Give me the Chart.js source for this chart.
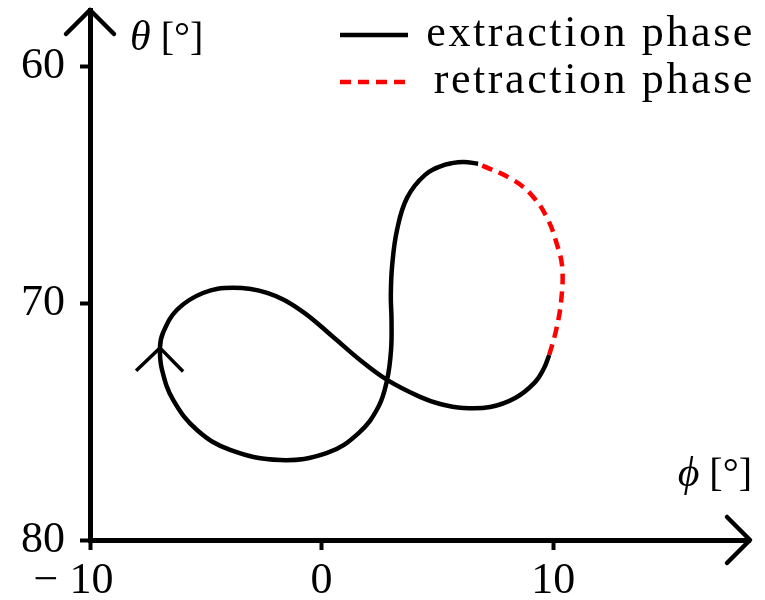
<!DOCTYPE html>
<html>
<head>
<meta charset="utf-8">
<title>Tether phase trajectory</title>
<script src="https://cdn.jsdelivr.net/npm/chart.js@4.4.1/dist/chart.umd.min.js"></script>
<style>
  body { margin: 0; background: #fff; }
  #wrap { width: 765px; height: 600px; }
</style>
</head>
<body>
<div id="wrap"><canvas id="traj" width="765" height="600"></canvas></div>
<script>
// trajectory in (phi, theta), degrees
// extraction phase: from the top of the right lobe, round the figure eight
const extPhi = [6.76, 6.11, 5.34, 4.47, 3.69, 3.26, 3.05, 2.99, 3.02, 3.00, 2.83, 2.45, 1.60, 0.24, -1.79, -3.95, -5.38, -6.41, -6.89, -6.98, -6.85, -6.24, -5.12, -3.82, -2.35, -0.93, 0.50, 1.66, 2.83, 4.25, 5.12, 6.11, 7.28, 8.36, 9.20, 9.61, 9.83];
const extTheta = [64.10, 64.02, 64.14, 64.57, 65.54, 66.89, 68.37, 69.64, 70.70, 71.97, 73.23, 74.38, 75.48, 76.32, 76.62, 76.19, 75.35, 74.08, 72.81, 71.88, 71.25, 70.27, 69.56, 69.34, 69.56, 70.27, 71.42, 72.39, 73.23, 73.95, 74.25, 74.42, 74.38, 74.00, 73.35, 72.73, 72.18];

// retraction phase: up the right side back to the top
const retPhi = [9.83, 10.13, 10.35, 10.39, 10.17, 9.78, 9.14, 8.27, 6.76];
const retTheta = [72.18, 71.12, 69.85, 68.46, 67.53, 66.47, 65.50, 64.78, 64.10];

// direction marker on the left lobe
const dirPhi = [-8.01, -6.98, -5.98];
const dirTheta = [72.85, 71.88, 72.88];

const phiTicks = [-10, 0, 10];
const thetaTicks = [60, 70, 80];
const phiRange = [-10, 18.5];
const thetaRange = [57.6, 80];

const seriesNames = ['extraction phase', 'retraction phase'];

function pts(xs, ys) {
    return xs.map((x, i) => ({ x: x, y: ys[i] }));
}

const serif = 'Liberation Serif, Times New Roman, serif';

// arrows on the axes, axis names and the legend
const decor = {
    id: 'decor',
    afterDraw(chart) {
        const ctx = chart.ctx;
        const a = chart.chartArea;
        ctx.save();
        ctx.strokeStyle = '#000';
        ctx.fillStyle = '#000';
        ctx.lineWidth = 4.5;
        ctx.lineCap = 'round';
        ctx.lineJoin = 'round';

        ctx.beginPath();
        ctx.moveTo(a.left - 24, a.top + 24);
        ctx.lineTo(a.left, a.top);
        ctx.lineTo(a.left + 24, a.top + 24);
        ctx.stroke();

        ctx.beginPath();
        ctx.moveTo(a.right - 23, a.bottom - 23);
        ctx.lineTo(a.right, a.bottom);
        ctx.lineTo(a.right - 23, a.bottom + 23);
        ctx.stroke();

        // theta [°]
        ctx.textBaseline = 'alphabetic';
        ctx.textAlign = 'left';
        ctx.font = 'italic 42px ' + serif;
        ctx.fillText('θ', 130, 50);
        let w = ctx.measureText('θ').width;
        ctx.font = '40px ' + serif;
        ctx.fillText(' [°]', 130 + w, 50);

        // phi [°]
        ctx.font = '40px ' + serif;
        const unitW = ctx.measureText(' [°]').width;
        ctx.textAlign = 'right';
        ctx.fillText(' [°]', 752, 486);
        ctx.font = 'italic 42px ' + serif;
        ctx.fillText('ϕ', 752 - unitW, 486);

        // legend
        ctx.font = '44px ' + serif;
        ctx.letterSpacing = '2.6px';
        ctx.textAlign = 'right';
        chart.data.datasets.filter(d => d.label).forEach((d, i) => {
            const base = 46 + i * 47;
            ctx.save();
            ctx.strokeStyle = d.borderColor;
            ctx.lineWidth = d.borderWidth;
            ctx.lineCap = 'butt';
            ctx.setLineDash(d.borderDash || []);
            ctx.beginPath();
            ctx.moveTo(340, base - 11);
            ctx.lineTo(408, base - 11);
            ctx.stroke();
            ctx.restore();
            ctx.fillText(d.label, 755, base);
        });
        ctx.restore();
    }
};

// keep the plot area fixed: no extra room for the end labels
function fixY(s) {
    s.width = 90;
    s.paddingTop = 0;
    s.paddingBottom = 0;
}
function fixX(s) {
    s.height = 60;
    s.paddingLeft = 0;
    s.paddingRight = 0;
}

new Chart(document.getElementById('traj'), {
    type: 'scatter',
    data: {
        datasets: [
            {
                label: seriesNames[0],
                data: pts(extPhi, extTheta),
                showLine: true,
                borderColor: '#000',
                borderWidth: 4.5,
                tension: 0.4,
                pointRadius: 0
            },
            {
                label: seriesNames[1],
                data: pts(retPhi, retTheta),
                showLine: true,
                borderColor: '#f00',
                borderWidth: 4.5,
                borderDash: [11, 7],
                tension: 0.4,
                pointRadius: 0
            },
            {
                data: pts(dirPhi, dirTheta),
                showLine: true,
                borderColor: '#000',
                borderWidth: 3.5,
                tension: 0,
                pointRadius: 0
            }
        ]
    },
    options: {
        responsive: false,
        animation: false,
        devicePixelRatio: 1,
        layout: { padding: { top: 10, right: 15, left: 0, bottom: 0 } },
        plugins: {
            legend: { display: false },
            tooltip: { enabled: false }
        },
        scales: {
            x: {
                type: 'linear',
                min: phiRange[0],
                max: phiRange[1],
                afterBuildTicks: s => { s.ticks = phiTicks.map(v => ({ value: v })); },
                afterFit: fixX,
                border: { display: true, color: '#000', width: 5 },
                grid: { display: true, drawOnChartArea: false, drawTicks: true, tickLength: 10, tickWidth: 4, tickColor: '#000' },
                ticks: {
                    color: '#000',
                    padding: 5,
                    maxRotation: 0,
                    font: { family: serif, size: 44 },
                    callback: v => v < 0 ? '− ' + Math.abs(v) + '   ' : String(v)
                }
            },
            y: {
                type: 'linear',
                reverse: true,
                min: thetaRange[0],
                max: thetaRange[1],
                afterBuildTicks: s => { s.ticks = thetaTicks.map(v => ({ value: v })); },
                afterFit: fixY,
                border: { display: true, color: '#000', width: 5 },
                grid: { display: true, drawOnChartArea: false, drawTicks: true, tickLength: 10, tickWidth: 4, tickColor: '#000' },
                ticks: {
                    color: '#000',
                    padding: 15,
                    font: { family: serif, size: 44 }
                }
            }
        }
    },
    plugins: [decor]
});
</script>
</body>
</html>
